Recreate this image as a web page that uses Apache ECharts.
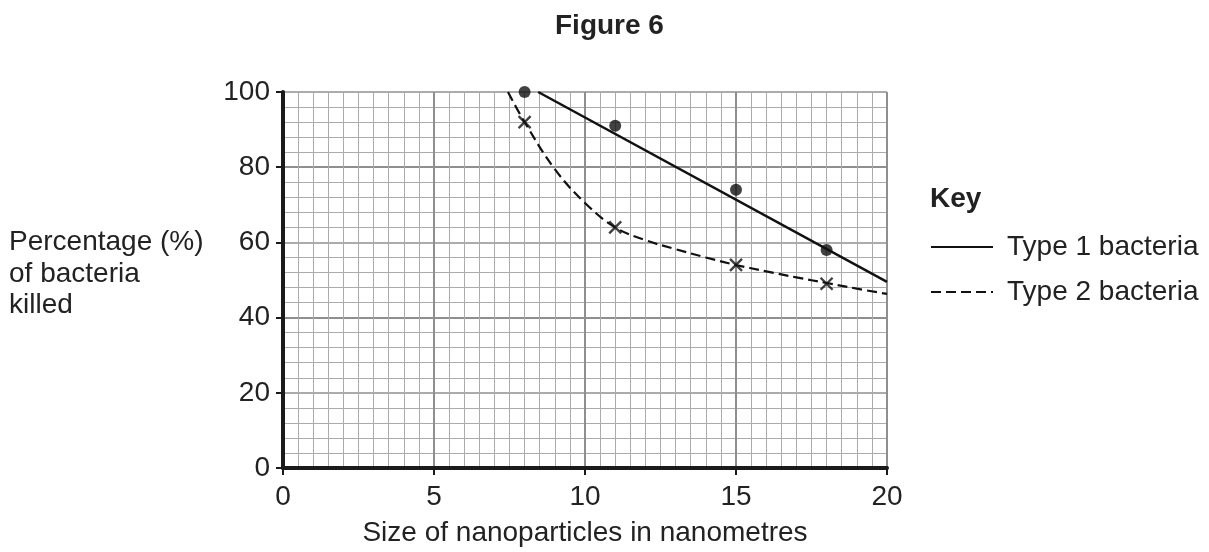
<!DOCTYPE html>
<html><head><meta charset="utf-8">
<script src="https://cdn.jsdelivr.net/npm/echarts@6/dist/echarts.min.js"></script>
<style>html,body{margin:0;padding:0;background:#fff}#c{width:1209px;height:552px}</style>
</head><body><div id="c"></div>
<script>
const xTicks = [0, 5, 10, 15, 20];
const yTicks = [0, 20, 40, 60, 80, 100];
const type1Points = [[8, 100], [11, 91], [15, 74], [18, 58]];
const type2Points = [[8, 92], [11, 64], [15, 54], [18, 49]];
const type1Fit = [[8.45, 100], [20, 49.5]];
const type2Curve = [[7.45, 100], [8, 92], [9, 79.5], [10, 70.5], [11, 64], [12, 60.6], [13, 58.2], [14, 56], [15, 54], [16, 52.3], [17, 50.7], [18, 49.2], [19, 47.7], [20, 46.3]];

const font = '"Liberation Sans", Arial, sans-serif';
const chart = echarts.init(document.getElementById('c'));
const crossPath = 'path://M0,0L10,10M10,0L0,10';
chart.setOption({
  animation: false,
  textStyle: {fontFamily: font},
  title: [
    {text: 'Figure 6', left: 555, top: 12, padding: 0, textStyle: {fontFamily: font, fontSize: 28, fontWeight: 'bold', color: '#222'}},
    {text: 'Percentage (%)\nof bacteria\nkilled', left: 9, top: 227, padding: 0, textStyle: {fontFamily: font, fontSize: 28, fontWeight: 'normal', color: '#222', lineHeight: 31.5}},
    {text: 'Key', left: 930, top: 185, padding: 0, textStyle: {fontFamily: font, fontSize: 28, fontWeight: 'bold', color: '#222'}}
  ],
  legend: {
    orient: 'vertical', left: 925, top: 228, itemGap: 17, itemWidth: 62, itemHeight: 14,
    data: ['Type 1 bacteria', 'Type 2 bacteria'],
    itemStyle: {opacity: 0},
    textStyle: {fontFamily: font, fontSize: 28, color: '#222', padding: [0, 0, 0, 9]}
  },
  grid: {left: 283, right: 322, top: 92, bottom: 82},
  xAxis: {
    type: 'value', min: 0, max: 20, interval: 5,
    name: 'Size of nanoparticles in nanometres', nameLocation: 'middle', nameGap: 51,
    nameTextStyle: {fontFamily: font, fontSize: 28, color: '#222'},
    axisLine: {show: true, lineStyle: {color: '#1a1a1a', width: 4}},
    axisTick: {show: true, length: 7, lineStyle: {color: '#1a1a1a', width: 2}},
    axisLabel: {fontFamily: font, fontSize: 28, color: '#222', margin: 15, formatter: v => xTicks.includes(v) ? String(v) : ''},
    splitLine: {show: true, lineStyle: {color: '#8f8f8f', width: 2}},
    minorTick: {show: false, splitNumber: 10},
    minorSplitLine: {show: true, lineStyle: {color: '#ababab', width: 1}}
  },
  yAxis: {
    type: 'value', min: 0, max: 100, interval: 20,
    axisLine: {show: true, onZero: false, lineStyle: {color: '#1a1a1a', width: 4}},
    axisTick: {show: true, length: 7, lineStyle: {color: '#1a1a1a', width: 2}},
    axisLabel: {fontFamily: font, fontSize: 28, color: '#222', margin: 13, formatter: v => yTicks.includes(v) ? String(v) : ''},
    splitLine: {show: true, lineStyle: {color: ['#8f8f8f', '#ababab'], width: 2}},
    minorTick: {show: false, splitNumber: 5},
    minorSplitLine: {show: true, lineStyle: {color: '#ababab', width: 1}}
  },
  series: [
    {name: 'Type 1 bacteria', type: 'line', data: type1Fit, symbol: 'none', z: 3,
     lineStyle: {color: '#111', width: 2.5}, itemStyle: {color: '#111'}},
    {name: 'Type 2 bacteria', type: 'line', data: type2Curve, symbol: 'none', smooth: 0.4, z: 3,
     lineStyle: {color: '#111', width: 2.2, type: [10, 5]}, itemStyle: {color: '#111'}},
    {name: 'Type 1 points', type: 'scatter', data: type1Points, symbol: 'circle', symbolSize: 12, z: 4,
     itemStyle: {color: '#111'}},
    {name: 'Type 2 points', type: 'scatter', data: type2Points, symbol: crossPath, symbolSize: 12, z: 4,
     itemStyle: {color: 'rgba(0,0,0,0)', borderColor: '#111', borderWidth: 2.4}}
  ]
});
</script></body></html>
